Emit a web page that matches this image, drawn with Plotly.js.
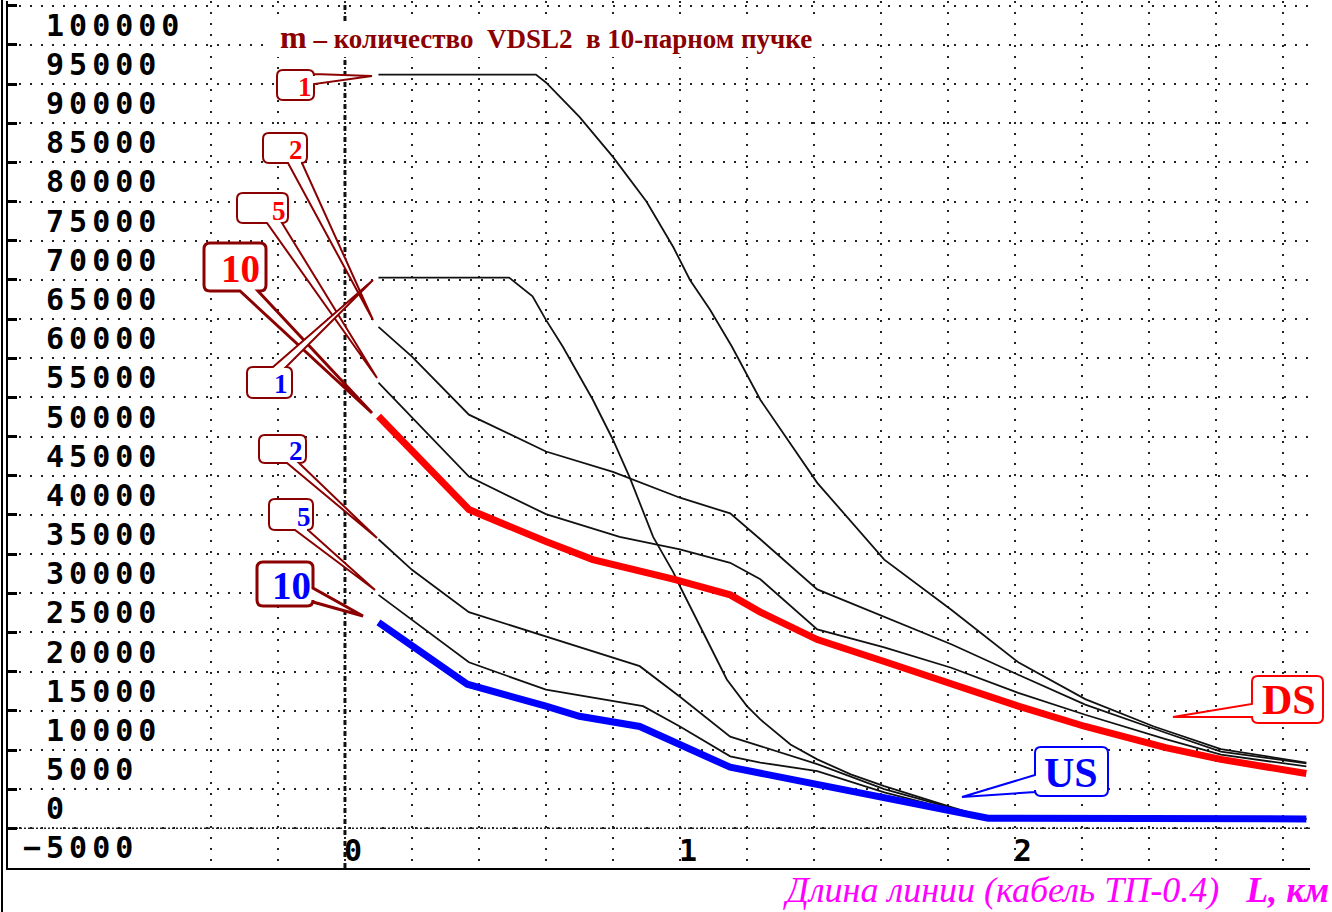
<!DOCTYPE html>
<html>
<head>
<meta charset="utf-8">
<script src="https://cdn.plot.ly/plotly-3.0.1.min.js"></script>
<style>
  html, body { margin: 0; padding: 0; background: #ffffff; }
  #chart { width: 1332px; height: 912px; }
  .ytick text, .y2tick text { letter-spacing: 5px; }
</style>
</head>
<body>
<div id="chart"></div>
<script>
// ---------------- DATA ----------------
// Line length, km (cable TP-0.4)
// Downstream (DS), m = 1, 2, 5, 10
const xDS1 = [0.1, 0.57, 0.6, 0.7, 0.8, 0.9, 0.98, 1.03, 1.09, 1.155, 1.24, 1.41, 1.61, 1.81, 2.01, 2.21, 2.415, 2.615, 2.87];
const yDS1 = [96200, 96200, 95200, 90800, 85700, 80000, 74200, 70000, 66200, 61500, 54700, 44100, 34300, 27900, 21200, 16500, 13000, 10100, 8400];

const xDS2 = [0.1, 0.2, 0.37, 0.6, 0.8, 1.0, 1.15, 1.24, 1.41, 1.61, 1.81, 2.01, 2.21, 2.45, 2.615, 2.87];
const yDS2 = [64000, 60200, 52800, 48100, 45500, 42200, 40200, 36900, 30500, 27000, 23500, 19600, 15800, 12200, 9800, 8300];

const xDS5 = [0.1, 0.37, 0.6, 0.82, 1.0, 1.15, 1.24, 1.41, 1.61, 1.81, 2.01, 2.21, 2.45, 2.615, 2.87];
const yDS5 = [56900, 44900, 40100, 37200, 35600, 33900, 31800, 25400, 23100, 20500, 17300, 14500, 11400, 9400, 7900];

const xDS10 = [0.1, 0.37, 0.6, 0.74, 0.98, 1.15, 1.24, 1.41, 1.61, 1.81, 2.01, 2.21, 2.45, 2.615, 2.87];
const yDS10 = [52600, 40700, 36600, 34300, 31800, 29800, 27600, 24100, 21300, 18400, 15600, 13000, 10300, 8800, 7000];

// Upstream (US), m = 1, 2, 5, 10
const xUS1 = [0.1, 0.49, 0.56, 0.6, 0.65, 0.74, 0.8, 0.85, 0.92, 0.98, 1.0, 1.08, 1.14, 1.2, 1.24, 1.33, 1.41, 1.51, 1.61, 1.81, 1.92, 2.87];
const yUS1 = [70300, 70300, 67900, 64900, 61500, 54700, 49600, 44800, 37200, 32700, 30900, 24100, 19000, 15600, 13900, 10700, 8800, 6900, 5400, 2700, 1300, 1200];

const xUS2 = [0.1, 0.2, 0.37, 0.6, 0.88, 1.0, 1.15, 1.24, 1.41, 1.61, 1.81, 1.92, 2.87];
const yUS2 = [36900, 33000, 27600, 24500, 20700, 16800, 11700, 10500, 8200, 5000, 2600, 1300, 1200];

const xUS5 = [0.1, 0.37, 0.6, 0.8, 0.89, 1.0, 1.15, 1.24, 1.41, 1.61, 1.81, 1.92, 2.87];
const yUS5 = [29800, 21200, 17700, 16200, 15600, 13000, 9200, 8400, 7300, 4600, 2400, 1300, 1200];

const xUS10 = [0.1, 0.365, 0.6, 0.7, 0.88, 1.02, 1.15, 1.92, 2.87];
const yUS10 = [26300, 18400, 15600, 14300, 13000, 10300, 7800, 1300, 1200];

// Tick labels
const xTickVals = [0, 1, 2];
const xTickText = ['0', '1', '2'];
const yTickVals = [-5000, 0, 5000, 10000, 15000, 20000, 25000, 30000, 35000, 40000, 45000, 50000,
                   55000, 60000, 65000, 70000, 75000, 80000, 85000, 90000, 95000, 100000, 105000];
const yTickText = ['\u22125000', '\u00a00', '\u00a05000', '\u00a010000', '\u00a015000', '\u00a020000',
                   '\u00a025000', '\u00a030000', '\u00a035000', '\u00a040000', '\u00a045000', '\u00a050000',
                   '\u00a055000', '\u00a060000', '\u00a065000', '\u00a070000', '\u00a075000', '\u00a080000',
                   '\u00a085000', '\u00a090000', '\u00a095000', '\u00a0100000', ''];

const titleText = '<span style="font-size:32px">m</span> – количество\u00a0 VDSL2\u00a0 в 10-парном пучке';
const xTitleText = '<i>Длина линии (кабель ТП-0.4)\u00a0\u00a0 <b>L, км</b></i>';

// ---------------- GEOMETRY HELPERS (page pixels -> paper) ----------------
const W = 1332, H = 912;
const M = { l: 8, r: 22, t: 1, b: 44 };
const PW = W - M.l - M.r, PH = H - M.t - M.b;
const px = v => (v - M.l) / PW;
const py = v => (H - M.b - v) / PH;
const P = (x, y) => px(x).toFixed(5) + ',' + py(y).toFixed(5);

function calloutPath(c) {
  const [x0, y0, x1, y1] = c.box, r = c.r || 6, t = c.tip;
  let d = 'M ' + P(x0 + r, y0);
  if (c.side === 'top') d += ' L ' + P(c.a, y0) + ' L ' + P(t[0], t[1]) + ' L ' + P(c.b, y0);
  d += ' L ' + P(x1 - r, y0) + ' Q ' + P(x1, y0) + ' ' + P(x1, y0 + r);
  if (c.side === 'right') d += ' L ' + P(x1, c.a) + ' L ' + P(t[0], t[1]) + ' L ' + P(x1, c.b);
  d += ' L ' + P(x1, y1 - r) + ' Q ' + P(x1, y1) + ' ' + P(x1 - r, y1);
  if (c.side === 'bottom') d += ' L ' + P(c.b, y1) + ' L ' + P(t[0], t[1]) + ' L ' + P(c.a, y1);
  d += ' L ' + P(x0 + r, y1) + ' Q ' + P(x0, y1) + ' ' + P(x0, y1 - r);
  if (c.side === 'left') d += ' L ' + P(x0, c.b) + ' L ' + P(t[0], t[1]) + ' L ' + P(x0, c.a);
  d += ' L ' + P(x0, y0 + r) + ' Q ' + P(x0, y0) + ' ' + P(x0 + r, y0) + ' Z';
  return d;
}

const DR = '#8b0000', RED = '#ff0000', BLUE = '#0000ff';
const callouts = [
  { box: [277, 70, 314, 100], side: 'right', a: 74, b: 84, tip: [372, 76], border: DR, w: 2, text: '1', tc: RED, ts: 27, tx: 305, ty: 87 },
  { box: [263, 133, 307, 163], side: 'bottom', a: 288, b: 302, tip: [373, 320], border: DR, w: 2, text: '2', tc: RED, ts: 27, tx: 296, ty: 150 },
  { box: [237, 193, 288, 223], side: 'bottom', a: 267, b: 282, tip: [377, 378], border: DR, w: 2, text: '5', tc: RED, ts: 27, tx: 279, ty: 211 },
  { box: [204, 243, 266, 291], side: 'bottom', a: 240, b: 258, tip: [372, 413], border: DR, w: 3, text: '10', tc: RED, ts: 39, tx: 240, ty: 268 },
  { box: [247, 367, 292, 398], side: 'top', a: 273, b: 286, tip: [373, 280], border: DR, w: 2, text: '1', tc: BLUE, ts: 27, tx: 281, ty: 384 },
  { box: [259, 435, 306, 463], side: 'bottom', a: 287, b: 299, tip: [377, 538], border: DR, w: 2, text: '2', tc: BLUE, ts: 27, tx: 296, ty: 451 },
  { box: [269, 499, 313, 530], side: 'bottom', a: 295, b: 308, tip: [375, 590], border: DR, w: 2, text: '5', tc: BLUE, ts: 27, tx: 304, ty: 517 },
  { box: [257, 562, 313, 606], side: 'right', a: 588, b: 602, tip: [363, 616], border: DR, w: 3, text: '10', tc: BLUE, ts: 39, tx: 291, ty: 585 },
  { box: [1252, 676, 1323, 723], side: 'left', a: 704, b: 717, tip: [1173, 717], border: RED, w: 2, text: 'DS', tc: RED, ts: 42, tx: 1289, ty: 700 },
  { box: [1035, 747, 1108, 796], side: 'left', a: 775, b: 792, tip: [962, 797], border: BLUE, w: 2, text: 'US', tc: BLUE, ts: 42, tx: 1071, ty: 773 }
];

// ---------------- TRACES ----------------
const thin = { color: '#111111', width: 1.8 };
const traces = [
  { x: xDS1, y: yDS1, name: 'DS m=1', mode: 'lines', line: thin },
  { x: xDS2, y: yDS2, name: 'DS m=2', mode: 'lines', line: thin },
  { x: xDS5, y: yDS5, name: 'DS m=5', mode: 'lines', line: thin },
  { x: xUS1, y: yUS1, name: 'US m=1', mode: 'lines', line: thin },
  { x: xUS2, y: yUS2, name: 'US m=2', mode: 'lines', line: thin },
  { x: xUS5, y: yUS5, name: 'US m=5', mode: 'lines', line: thin },
  { x: xDS10, y: yDS10, name: 'DS m=10', mode: 'lines', line: { color: RED, width: 7 } },
  { x: xUS10, y: yUS10, name: 'US m=10', mode: 'lines', line: { color: BLUE, width: 7 } },
  // empty trace that only carries the label axis (labels sit half a step above their gridlines)
  { x: [], y: [], yaxis: 'y2', mode: 'lines', hoverinfo: 'skip', showlegend: false }
];

// ---------------- SHAPES & ANNOTATIONS ----------------
const shapes = [
  // dense zero line
  { type: 'line', xref: 'paper', yref: 'y', x0: 0, x1: 1, y0: 0, y1: 0, layer: 'between',
    line: { color: '#222', width: 1.5, dash: '2px,2px' } },
  // x = 0 dashed axis
  { type: 'line', xref: 'x', yref: 'paper', x0: 0, x1: 0, y0: 0, y1: 1, layer: 'between',
    line: { color: '#111', width: 3, dash: '5px,6px' } },
  // outer frame line on the far left
  { type: 'line', xref: 'paper', yref: 'paper', x0: px(2), x1: px(2), y0: py(912), y1: py(0),
    line: { color: '#000', width: 2 } },
  // white box behind the title
  { type: 'rect', xref: 'paper', yref: 'paper', x0: px(272), x1: px(822), y0: py(57), y1: py(21),
    fillcolor: '#ffffff', line: { width: 0 }, layer: 'above' }
];
const annotations = [];
callouts.forEach(c => {
  shapes.push({ type: 'path', xref: 'paper', yref: 'paper', path: calloutPath(c),
    fillcolor: '#ffffff', line: { color: c.border, width: c.w }, layer: 'above' });
  annotations.push({ xref: 'paper', yref: 'paper', x: px(c.tx), y: py(c.ty), xanchor: 'center', yanchor: 'middle',
    text: c.text, showarrow: false,
    font: { family: 'Liberation Serif, Times New Roman, serif', size: c.ts, color: c.tc, weight: 'bold' } });
});
annotations.push({ xref: 'paper', yref: 'paper', x: px(1330), y: py(911), xanchor: 'right', yanchor: 'bottom',
  borderpad: 0, text: xTitleText, showarrow: false,
  font: { family: 'Liberation Serif, Times New Roman, serif', size: 36, color: '#ff00ff' } });

const gridStyle = { gridcolor: '#222', gridwidth: 2, griddash: '2px,9px' };
const monoFont = { family: 'DejaVu Sans Mono, monospace', size: 30, color: '#000', weight: 'bold' };
const yRange = [-5060, 105600];
const labelOffset = 2500; // half a grid step

const layout = {
  width: W, height: H,
  margin: { l: M.l, r: M.r, t: M.t, b: M.b, pad: 0 },
  paper_bgcolor: '#ffffff', plot_bgcolor: '#ffffff',
  showlegend: false,
  title: { text: titleText, xref: 'container', yref: 'container', x: 280 / W, xanchor: 'left',
           y: 1 - 39 / H, yanchor: 'middle',
           font: { family: 'Liberation Serif, Times New Roman, serif', size: 27, color: '#8b0000', weight: 'bold' } },
  xaxis: Object.assign({
    range: [-1.006, 2.881], tickmode: 'array', tickvals: xTickVals, ticktext: xTickText,
    ticklabelposition: 'outside', ticks: '', showgrid: true, zeroline: false,
    showline: true, linecolor: '#000', linewidth: 2,
    tickfont: monoFont, ticklabelshift: 8, ticklabelstandoff: -45,
    minor: { tick0: 0, dtick: 0.2, showgrid: true, gridcolor: '#222', gridwidth: 2, griddash: '2px,9px' }
  }, gridStyle),
  yaxis: Object.assign({
    range: yRange, tickmode: 'array', tickvals: yTickVals, showticklabels: false,
    ticks: 'inside', ticklen: 9, tickwidth: 3, tickcolor: '#000',
    showgrid: true, zeroline: false, showline: true, linecolor: '#000', linewidth: 2
  }, gridStyle),
  yaxis2: {
    overlaying: 'y', side: 'left', anchor: 'x',
    range: [yRange[0] - labelOffset, yRange[1] - labelOffset],
    tickmode: 'array', tickvals: yTickVals, ticktext: yTickText,
    ticklabelposition: 'inside', ticks: '', showgrid: false, zeroline: false, showline: false,
    tickfont: monoFont, ticklabelstandoff: 12
  },
  shapes: shapes,
  annotations: annotations
};

Plotly.newPlot('chart', traces, layout, { displayModeBar: false, staticPlot: true });
</script>
</body>
</html>
